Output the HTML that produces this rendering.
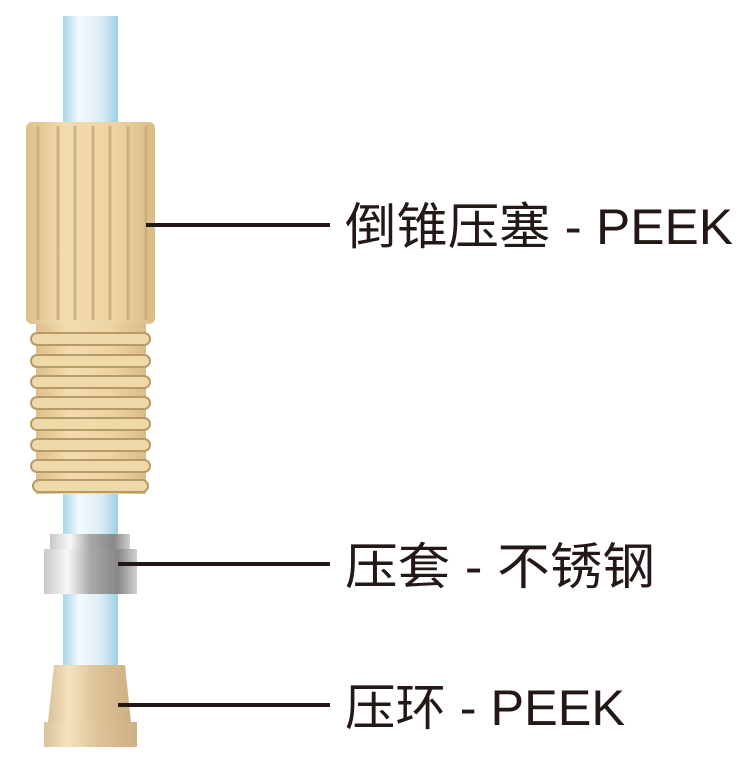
<!DOCTYPE html>
<html><head><meta charset="utf-8"><style>
html,body{margin:0;padding:0;background:#fff;}
svg{display:block}
text{font-family:"Liberation Sans","Noto Sans CJK SC",sans-serif;fill:#231815;font-size:50px;}
</style></head><body>
<svg width="754" height="773" viewBox="0 0 754 773">
<defs>
<linearGradient id="tube" x1="0" x2="1"><stop offset="0" stop-color="#a9d6e8"/><stop offset="0.3" stop-color="#f4fafd"/><stop offset="0.7" stop-color="#dcecf4"/><stop offset="1" stop-color="#9ccfe2"/></linearGradient>
<linearGradient id="nut" x1="0" x2="1"><stop offset="0" stop-color="#dcc08c"/><stop offset="0.3" stop-color="#f3dcae"/><stop offset="0.7" stop-color="#ecd3a2"/><stop offset="1" stop-color="#d8bc88"/></linearGradient>
<linearGradient id="steel" x1="0" x2="1"><stop offset="0" stop-color="#c8c8c8"/><stop offset="0.25" stop-color="#f8f8f8"/><stop offset="0.5" stop-color="#a8a8a8"/><stop offset="0.8" stop-color="#888"/><stop offset="1" stop-color="#d0d0d0"/></linearGradient>
<linearGradient id="fer" x1="0" x2="1"><stop offset="0" stop-color="#d9c39a"/><stop offset="0.25" stop-color="#f4e2bd"/><stop offset="0.6" stop-color="#dcc296"/><stop offset="1" stop-color="#cdb185"/></linearGradient>
</defs>
<rect x="63" y="16" width="55" height="652" fill="url(#tube)"/>
<!-- nut body -->
<rect x="26" y="122" width="129" height="202" rx="6" fill="url(#nut)"/>
<g stroke="#c9aa74" stroke-width="3" opacity="0.8">
<line x1="38" y1="126" x2="38" y2="320"/><line x1="58" y1="126" x2="58" y2="320"/><line x1="75" y1="126" x2="75" y2="320"/><line x1="93" y1="126" x2="93" y2="320"/><line x1="110" y1="126" x2="110" y2="320"/><line x1="128" y1="126" x2="128" y2="320"/><line x1="146" y1="126" x2="146" y2="320"/>
</g>
<!-- thread -->
<rect x="36" y="324" width="110" height="170" fill="url(#nut)"/>
<g fill="#f0d9a8" stroke="#b89a66" stroke-width="2">
<rect x="31" y="333" width="119" height="12" rx="6"/><rect x="31" y="355" width="119" height="12" rx="6"/><rect x="31" y="376" width="119" height="12" rx="6"/><rect x="31" y="397" width="119" height="12" rx="6"/><rect x="31" y="418" width="119" height="12" rx="6"/><rect x="31" y="439" width="119" height="12" rx="6"/><rect x="31" y="460" width="119" height="12" rx="6"/><rect x="33" y="480" width="115" height="12" rx="6"/>
</g>
<!-- steel ferrule -->
<rect x="50" y="534" width="80" height="16" fill="url(#steel)"/>
<rect x="44" y="549" width="93" height="45" fill="url(#steel)"/>
<!-- peek ferrule -->
<polygon points="54,665 125,665 131,722 48,722" fill="url(#fer)"/>
<rect x="44" y="722" width="93" height="25" fill="url(#fer)"/>
<!-- leaders -->
<rect x="146" y="223" width="184" height="4" fill="#231815"/>
<rect x="118" y="562" width="212" height="4" fill="#231815"/>
<rect x="118" y="703" width="212" height="4" fill="#231815"/>
<text x="345" y="244" textLength="388" lengthAdjust="spacingAndGlyphs">倒锥压塞 - PEEK</text>
<text x="345" y="584" textLength="310" lengthAdjust="spacingAndGlyphs">压套 - 不锈钢</text>
<text x="345" y="725" textLength="280" lengthAdjust="spacingAndGlyphs">压环 - PEEK</text>
</svg>
</body></html>
